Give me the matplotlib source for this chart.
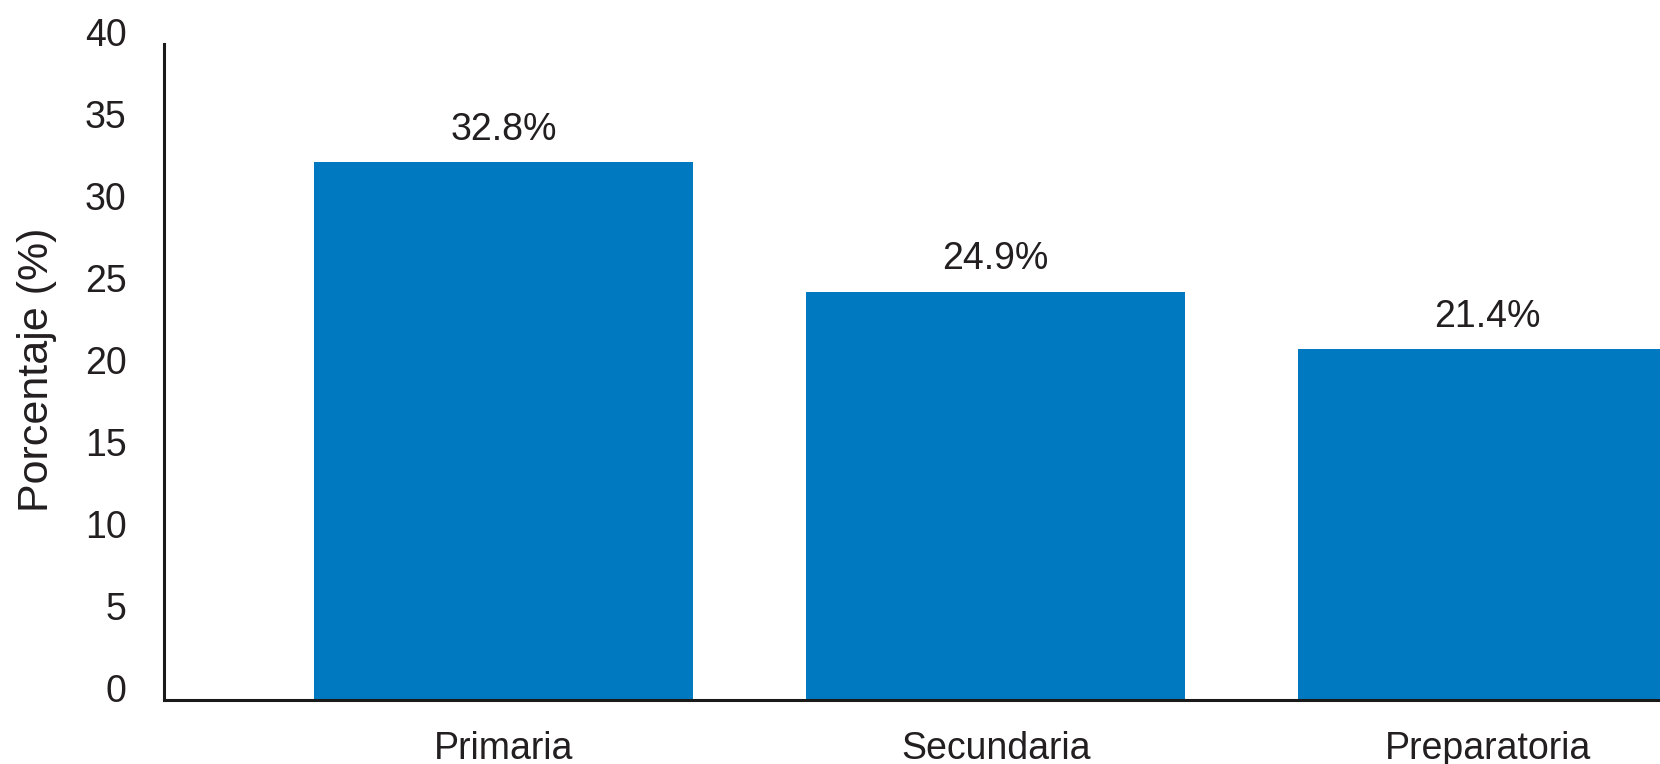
import matplotlib
matplotlib.use('Agg')
import matplotlib.pyplot as plt
import matplotlib.transforms as mtransforms

# data
categories = ['Primaria', 'Secundaria', 'Preparatoria']
values = [32.8, 24.9, 21.4]
value_labels = ['32.8%', '24.9%', '21.4%']
yticks = [0, 5, 10, 15, 20, 25, 30, 35, 40]

bar_color = '#0079C1'
text_color = '#231F20'

plt.rcParams['font.family'] = ['Liberation Sans', 'DejaVu Sans']

fig = plt.figure(figsize=(16.6, 7.64), dpi=100)
ax = fig.add_axes([0.0988, 0.0838, 0.9012, 0.8586])

x = list(range(len(categories)))
ax.bar(x, values, width=0.77, color=bar_color, zorder=2)

# value labels above bars
for xi, v, lab in zip(x, values, value_labels):
    ax.annotate(lab, (xi, v), xytext=(0, 16), textcoords='offset points',
                ha='center', va='baseline', fontsize=27, color=text_color)

ax.set_xlim(-0.69, 2.35)
ax.set_ylim(0, 40)
ax.set_yticks(yticks)
ax.set_xticks(x)
ax.set_xticklabels(categories)

ax.tick_params(axis='both', length=0, labelsize=27, labelcolor=text_color)
ax.tick_params(axis='y', pad=27)
ax.tick_params(axis='x', pad=22)

# y tick labels sit a bit higher than their positions in the original
shift = mtransforms.ScaledTranslation(0, 12 / 100, fig.dpi_scale_trans)
for lbl in ax.get_yticklabels():
    lbl.set_transform(lbl.get_transform() + shift)

ax.set_ylabel('Porcentaje (%)', fontsize=31, color=text_color, va='center')
ax.yaxis.set_label_coords(-0.085, 0.503)

for side in ['top', 'right']:
    ax.spines[side].set_visible(False)
for side in ['left', 'bottom']:
    ax.spines[side].set_linewidth(2.2)
    ax.spines[side].set_color('#1a1a1a')

plt.savefig('out.png', dpi=100)
